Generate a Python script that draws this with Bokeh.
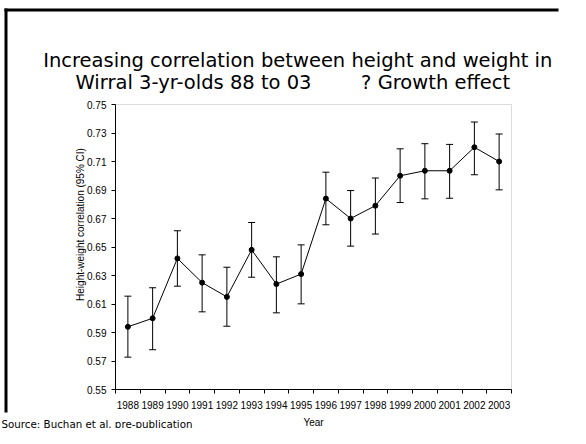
import numpy as np
from bokeh.plotting import figure
from bokeh.models import (ColumnDataSource, Whisker, TeeHead, FixedTicker, Label,
                          BoxAnnotation, LinearAxis, PrintfTickFormatter, Range1d)
from bokeh.embed import file_html
from bokeh.resources import INLINE

# ---- data ----
years = [1988, 1989, 1990, 1991, 1992, 1993, 1994, 1995,
         1996, 1997, 1998, 1999, 2000, 2001, 2002, 2003]
corr = [0.594, 0.600, 0.642, 0.625, 0.615, 0.648, 0.624, 0.631,
        0.684, 0.670, 0.679, 0.700, 0.7035, 0.7035, 0.720, 0.710]
ci_upper = [0.6155, 0.6214, 0.6614, 0.6445, 0.6358, 0.6672, 0.6431, 0.6515,
            0.7025, 0.6896, 0.6984, 0.7189, 0.7225, 0.7220, 0.7377, 0.7293]
ci_lower = [0.5727, 0.5779, 0.6225, 0.6045, 0.5944, 0.6288, 0.6038, 0.6101,
            0.6656, 0.6506, 0.6591, 0.6812, 0.6838, 0.6842, 0.7007, 0.6901]
y_ticks = [0.55, 0.57, 0.59, 0.61, 0.63, 0.65, 0.67, 0.69, 0.71, 0.73, 0.75]

NB = "\u00a0"
title_line1 = "Increasing correlation between height and weight in"
title_line2 = "Wirral 3-yr-olds 88 to 03 " + NB * 7 + "? Growth effect"
source_text = "Source: Buchan et al. pre-publication"
x_label = "Year"
y_label = "Height-weight correlation (95% CI)"

src = ColumnDataSource(dict(x=years, y=corr, upper=ci_upper, lower=ci_lower))

# ---- layout (pixels in the picture) ----
W, H = 570, 428
PX_L, PX_R, PX_T, PX_B = 115, 511, 104, 389       # plot area edges
x0, x1 = years[0] - 0.5, years[-1] + 0.5
y0, y1 = y_ticks[0], y_ticks[-1]
kx = (x1 - x0) / (PX_R - PX_L)
ky = (y1 - y0) / (PX_B - PX_T)
x_range = Range1d(x0 - PX_L * kx, x1 + (W - PX_R) * kx)
y_range = Range1d(y0 - (H - PX_B) * ky, y1 + PX_T * ky)

p = figure(width=W, height=H, x_range=x_range, y_range=y_range,
           output_backend="svg", toolbar_location=None, title=None,
           min_border=0, min_border_left=0, min_border_right=0,
           min_border_top=0, min_border_bottom=0,
           x_axis_location=None, y_axis_location=None)
p.xgrid.visible = False
p.ygrid.visible = False
p.outline_line_color = None
p.background_fill_color = "white"
p.border_fill_color = "white"

tick_font = "Liberation Sans"

def style_axis(ax):
    ax.axis_line_color = "black"
    ax.axis_line_width = 1
    ax.major_tick_line_width = 1
    ax.major_label_text_font = tick_font
    ax.major_label_text_font_size = "10px"
    ax.major_label_text_color = "black"
    ax.axis_label_text_font = tick_font
    ax.axis_label_text_font_size = "10px"
    ax.axis_label_text_font_style = "normal"
    ax.axis_label_text_color = "black"

# x axis: labels at year centres, tick marks between years
xaxis = LinearAxis(fixed_location=y0, bounds=(x0, x1),
                   ticker=FixedTicker(ticks=years,
                                      minor_ticks=[y - 0.5 for y in years] + [years[-1] + 0.5]),
                   major_label_overrides={y: str(y) for y in years},
                   axis_label=x_label)
style_axis(xaxis)
xaxis.major_tick_line_color = None
xaxis.major_tick_out = 4
xaxis.major_tick_in = 0
xaxis.minor_tick_out = 4
xaxis.minor_tick_in = 0
xaxis.minor_tick_line_color = "black"
xaxis.major_label_standoff = 7
xaxis.axis_label_standoff = 5
p.add_layout(xaxis, "below")

# y axis
yaxis = LinearAxis(fixed_location=x0, bounds=(y0, y1),
                   ticker=FixedTicker(ticks=y_ticks),
                   formatter=PrintfTickFormatter(format="%.2f"))
style_axis(yaxis)
yaxis.major_tick_line_color = "black"
yaxis.minor_tick_line_color = None
yaxis.major_tick_out = 4
yaxis.major_tick_in = 0
yaxis.major_label_standoff = 5
p.add_layout(yaxis, "left")

# y axis title (centred a little above the middle of the plot area, as in the original)
y_title_center = y1 - (224 - PX_T) * ky
ytitle_axis = LinearAxis(fixed_location=x0, bounds=(y_title_center - 0.01, y_title_center + 0.01),
                         ticker=FixedTicker(ticks=[]), axis_label=y_label)
style_axis(ytitle_axis)
ytitle_axis.axis_line_color = None
ytitle_axis.major_tick_line_color = None
ytitle_axis.minor_tick_line_color = None
ytitle_axis.major_tick_out = 0
ytitle_axis.minor_tick_out = 0
ytitle_axis.axis_label_standoff = 30
p.add_layout(ytitle_axis, "left")

# grey plot-area frame
p.add_layout(BoxAnnotation(left=x0, right=x1, bottom=y0, top=y1, level="underlay",
                           fill_color=None, line_color="#8c8c8c", line_width=1))

# error bars, line and markers
wh = Whisker(source=src, base="x", upper="upper", lower="lower",
             line_color="black", line_width=1,
             upper_head=TeeHead(size=7, line_color="black", line_width=1),
             lower_head=TeeHead(size=7, line_color="black", line_width=1))
p.add_layout(wh)
p.line("x", "y", source=src, line_color="black", line_width=1)
p.scatter("x", "y", source=src, marker="circle", size=5, fill_color="black", line_color="black")

# texts (screen units from the bottom-left of the canvas)
title_font = "DejaVu Sans"
def add_text(txt, px, py, size, align="left"):
    p.add_layout(Label(x=px, y=H - py, x_units="screen", y_units="screen", text=txt,
                       text_font=title_font, text_font_size=size, text_color="black",
                       text_align=align, text_baseline="alphabetic"))

add_text(title_line1, 42.7, 60, "19.5px")
add_text(title_line2, 75, 81.7, "19.5px")
add_text(source_text, 1, 423, "10.3px")

# slide border (top and left)
def add_bar(left, right, top, bottom):
    p.add_layout(BoxAnnotation(left=left, right=right, top=H - top, bottom=H - bottom,
                               left_units="screen", right_units="screen",
                               top_units="screen", bottom_units="screen",
                               fill_color="black", fill_alpha=1, line_color=None))
add_bar(4, W - 12, 8, 11)
add_bar(4, 7, 8, 412)

open("out.html", "w").write(file_html(p, INLINE))
